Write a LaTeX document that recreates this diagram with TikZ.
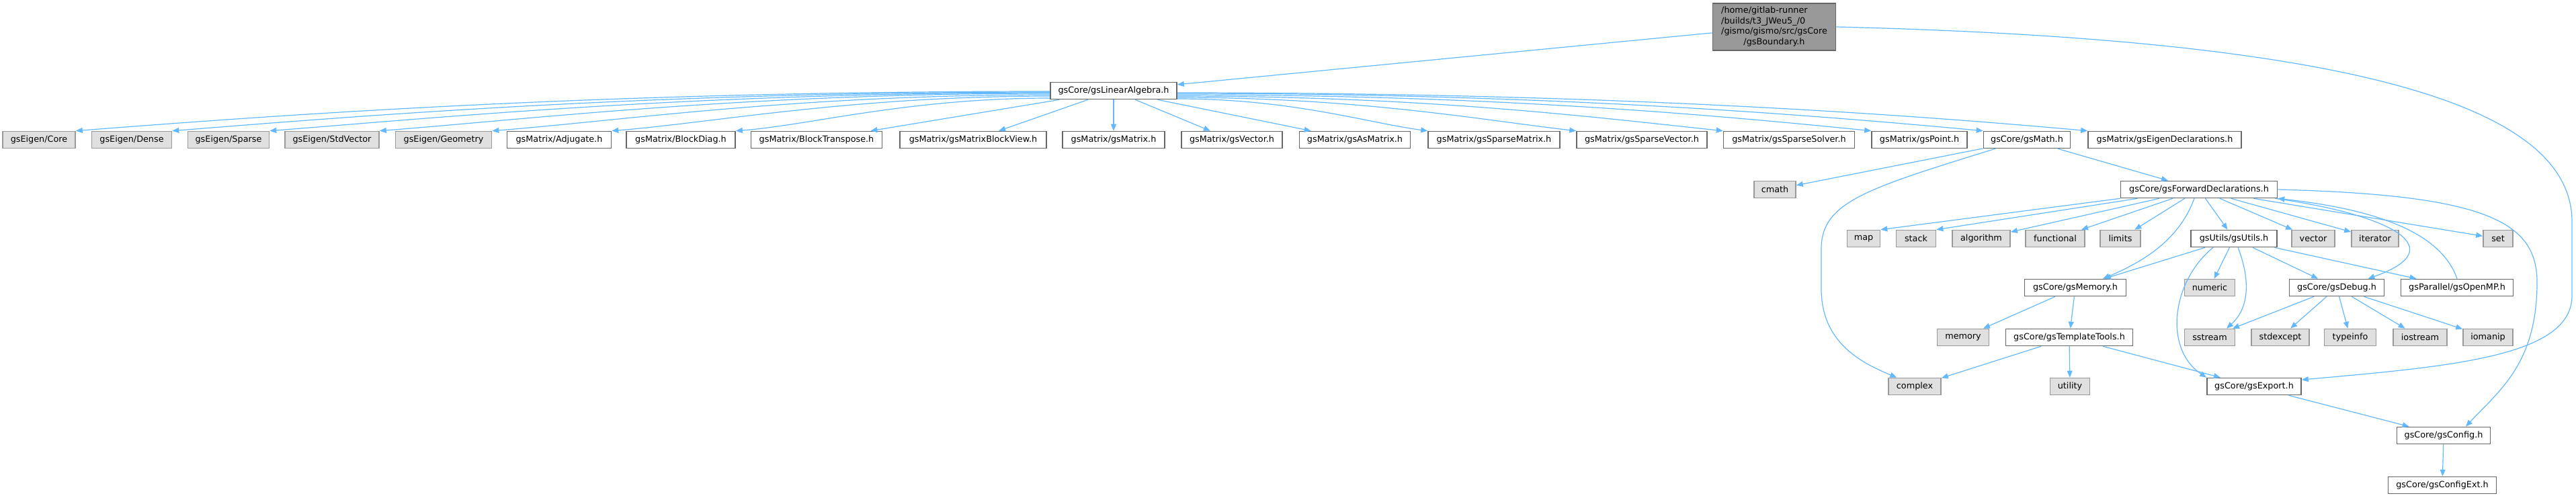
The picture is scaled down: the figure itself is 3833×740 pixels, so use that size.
\documentclass[tikz,border=0pt]{standalone}
\usepackage{fontspec}
\setmainfont{DejaVu Sans}
\usepackage{xcolor}
\usepackage{tikz}
\usetikzlibrary{arrows.meta}

\definecolor{edgeblue}{HTML}{63B8FF}
\definecolor{extfill}{HTML}{E0E0E0}
\definecolor{rootfill}{HTML}{999999}
\definecolor{boxline}{HTML}{666666}

\begin{document}
\begin{tikzpicture}[x=0.5pt, y=-0.5pt,
    filebox/.style={draw=boxline, fill=white, line width=0.8pt, font=\fontsize{6.4}{7.7}\selectfont,
      inner xsep=2pt, inner ysep=0pt, minimum height=12.5pt},
    extbox/.style={filebox, draw=rootfill, fill=extfill},
    rootbox/.style={filebox, fill=rootfill, inner ysep=2pt},
    incl/.style={draw=edgeblue, line width=0.6pt, -{Triangle[length=5pt,width=4pt]}}]
  \useasboundingbox (0,0) rectangle (3833,740);

  % gsBoundary.h and gsLinearAlgebra.h
  \node[rootbox, minimum width=91.5pt, minimum height=35pt] (boundary) at (2640,40)
    {\begin{tabular}{@{}l@{}}/home/gitlab-runner\\/builds/t3\_JWeu5\_/0\\/gismo/gismo/src/gsCore\\\multicolumn{1}{@{}c@{}}{/gsBoundary.h}\end{tabular}};
  \node[filebox, minimum width=94pt] (la) at (1657,135) {gsCore/gsLinearAlgebra.h};

  % headers of gsLinearAlgebra.h
  \node[extbox, minimum width=54pt] (eigenCore) at (58,208) {gsEigen/Core};
  \node[extbox, minimum width=59.5pt] (eigenDense) at (196,208) {gsEigen/Dense};
  \node[extbox, minimum width=60.5pt] (eigenSparse) at (340,208) {gsEigen/Sparse};
  \node[extbox, minimum width=70pt] (eigenStdVector) at (494,208) {gsEigen/StdVector};
  \node[extbox, minimum width=71.5pt] (eigenGeometry) at (660,208) {gsEigen/Geometry};
  \node[filebox, minimum width=77.5pt] (adjugate) at (832,208) {gsMatrix/Adjugate.h};
  \node[filebox, minimum width=81pt] (blockDiag) at (1013,208) {gsMatrix/BlockDiag.h};
  \node[filebox, minimum width=97.5pt] (blockTranspose) at (1215,208) {gsMatrix/BlockTranspose.h};
  \node[filebox, minimum width=109pt] (blockView) at (1448,208) {gsMatrix/gsMatrixBlockView.h};
  \node[filebox, minimum width=76pt] (gsMatrix) at (1657,208) {gsMatrix/gsMatrix.h};
  \node[filebox, minimum width=75pt] (gsVector) at (1833,208) {gsMatrix/gsVector.h};
  \node[filebox, minimum width=82.5pt] (asMatrix) at (2016,208) {gsMatrix/gsAsMatrix.h};
  \node[filebox, minimum width=98pt] (sparseMatrix) at (2223,208) {gsMatrix/gsSparseMatrix.h};
  \node[filebox, minimum width=97pt] (sparseVector) at (2443,208) {gsMatrix/gsSparseVector.h};
  \node[filebox, minimum width=97.5pt] (sparseSolver) at (2662,208) {gsMatrix/gsSparseSolver.h};
  \node[filebox, minimum width=71pt] (gsPoint) at (2856,208) {gsMatrix/gsPoint.h};
  \node[filebox, minimum width=64.5pt] (gsMath) at (3016,208) {gsCore/gsMath.h};
  \node[filebox, minimum width=114pt] (eigenDecl) at (3221,208) {gsMatrix/gsEigenDeclarations.h};

  % gsMath.h and gsForwardDeclarations.h
  \node[extbox, minimum width=31pt] (cmath) at (2641,282) {cmath};
  \node[filebox, minimum width=116.5pt] (fwdDecl) at (3272,282) {gsCore/gsForwardDeclarations.h};

  \node[extbox, minimum width=24.5pt] (map) at (2773,355) {map};
  \node[extbox, minimum width=29.5pt] (stack) at (2851,355) {stack};
  \node[extbox, minimum width=43pt] (algorithm) at (2948,355) {algorithm};
  \node[extbox, minimum width=44pt] (functional) at (3058,355) {functional};
  \node[extbox, minimum width=30pt] (limits) at (3155,355) {limits};
  \node[filebox, minimum width=64pt] (gsUtils) at (3324,355) {gsUtils/gsUtils.h};
  \node[extbox, minimum width=32pt] (vector) at (3442,355) {vector};
  \node[extbox, minimum width=35pt] (iterator) at (3534,355) {iterator};
  \node[extbox, minimum width=22pt] (set) at (3717,355) {set};

  \node[filebox, minimum width=75.5pt] (gsMemory) at (3088,428) {gsCore/gsMemory.h};
  \node[extbox, minimum width=37.5pt] (numeric) at (3288,428) {numeric};
  \node[filebox, minimum width=70.5pt] (gsDebug) at (3477,428) {gsCore/gsDebug.h};
  \node[filebox, minimum width=83.5pt] (gsOpenMP) at (3656,428) {gsParallel/gsOpenMP.h};

  \node[extbox, minimum width=38.5pt] (memory) at (2921,502) {memory};
  \node[filebox, minimum width=94.5pt] (templateTools) at (3079,502) {gsCore/gsTemplateTools.h};
  \node[extbox, minimum width=37.5pt] (sstream) at (3288,502) {sstream};
  \node[extbox, minimum width=43pt] (stdexcept) at (3393,502) {stdexcept};
  \node[extbox, minimum width=38.5pt] (typeinfo) at (3497,502) {typeinfo};
  \node[extbox, minimum width=40pt] (iostream) at (3601,502) {iostream};
  \node[extbox, minimum width=37pt] (iomanip) at (3702,502) {iomanip};

  \node[extbox, minimum width=39pt] (complex) at (2849,575) {complex};
  \node[extbox, minimum width=29.5pt] (utility) at (3080,575) {utility};
  \node[filebox, minimum width=70pt] (gsExport) at (3354,575) {gsCore/gsExport.h};

  \node[filebox, minimum width=69.5pt] (gsConfig) at (3636,648) {gsCore/gsConfig.h};
  \node[filebox, minimum width=80.5pt] (gsConfigExt) at (3634,722) {gsCore/gsConfigExt.h};

  % includes of gsBoundary.h
  \draw[incl] (boundary) -- (la);
  \draw[incl] (boundary.east) .. controls (3550,60) and (3827,170) .. (3827,330) -- (3827,440)
    .. controls (3827,530) and (3650,545) .. (gsExport.8);

  % includes of gsLinearAlgebra.h
  \draw[incl] ([yshift=-0.5pt]la.west) .. controls +(-653,0) and +(334,-26) .. (eigenCore.north east);
  \draw[incl] ([yshift=-1pt]la.west) .. controls +(-589,0) and +(301,-24) .. (eigenDense.north east);
  \draw[incl] ([yshift=-1.5pt]la.west) .. controls +(-523,0) and +(267,-21) .. (eigenSparse.north east);
  \draw[incl] ([yshift=-2pt]la.west) .. controls +(-450,0) and +(230,-18) .. (eigenStdVector.north east);
  \draw[incl] ([yshift=-3pt]la.west) .. controls +(-374,0) and +(191,-15) .. (eigenGeometry.north east);
  \draw[incl] ([yshift=-4pt]la.west) .. controls +(-294,0) and +(150,-12) .. (adjugate.north east);
  \draw[incl] ([yshift=-5.5pt]la.west) .. controls +(-211,0) and +(108,-8) .. (blockDiag.north east);
  \draw[incl] (la) -- (blockTranspose);
  \draw[incl] (la) -- (blockView);
  \draw[incl] (la) -- (gsMatrix);
  \draw[incl] (la) -- (gsVector);
  \draw[incl] (la) -- (asMatrix);
  \draw[incl] ([yshift=-6pt]la.east) .. controls +(170,0) and +(-90,-12) .. (sparseMatrix.north west);
  \draw[incl] ([yshift=-5pt]la.east) .. controls +(270,0) and +(-140,-16) .. (sparseVector.north west);
  \draw[incl] ([yshift=-4pt]la.east) .. controls +(370,0) and +(-190,-20) .. (sparseSolver.north west);
  \draw[incl] ([yshift=-3pt]la.east) .. controls +(470,0) and +(-240,-24) .. (gsPoint.north west);
  \draw[incl] ([yshift=-2pt]la.east) .. controls +(540,0) and +(-280,-26) .. (gsMath.north west);
  \draw[incl] ([yshift=-1.5pt]la.east) .. controls +(610,0) and +(-310,-28) .. (eigenDecl.north west);

  % includes of gsMath.h
  \draw[incl] (gsMath) -- (cmath);
  \draw[incl] (gsMath) -- (fwdDecl);
  \draw[incl] ([xshift=9pt]gsMath.south west) .. controls (2780,280) and (2710,300) .. (2710,370) -- (2710,430)
    .. controls (2710,510) and (2770,540) .. ([xshift=6.5pt]complex.north west);

  % includes of gsForwardDeclarations.h
  \draw[incl] (fwdDecl.south west) -- (map.north east);
  \draw[incl] ([xshift=13pt]fwdDecl.south west) -- (stack.north east);
  \draw[incl] (fwdDecl) -- (algorithm);
  \draw[incl] (fwdDecl) -- (functional);
  \draw[incl] (fwdDecl) -- (limits);
  \draw[incl] (fwdDecl) -- (gsUtils);
  \draw[incl] (fwdDecl) -- (vector);
  \draw[incl] (fwdDecl) -- (iterator);
  \draw[incl] (fwdDecl) -- (set);
  \draw[incl] ([xshift=-3.5pt]fwdDecl.south) .. controls (3245,350) and (3200,385) .. (gsMemory.18);
  \draw[incl] ([xshift=-2pt]fwdDecl.south east) .. controls (3560,320) and (3650,370) .. (gsDebug.16);
  \draw[incl] (fwdDecl.east) .. controls (3700,290) and (3775,330) .. (3775,420)
    .. controls (3775,540) and (3720,580) .. (gsConfig.22);
  \draw[incl] (gsOpenMP.north) .. controls (3630,340) and (3520,310) .. (fwdDecl.south east);

  % includes of gsUtils.h
  \draw[incl] (gsUtils) -- (gsMemory);
  \draw[incl] (gsUtils) -- (numeric);
  \draw[incl] (gsUtils) -- (gsDebug);
  \draw[incl] (gsUtils) -- (gsOpenMP);
  \draw[incl] ([xshift=3pt]gsUtils.south) .. controls (3350,420) and (3345,460) .. (sstream.28);
  \draw[incl] ([xshift=-15.5pt]gsUtils.south) .. controls (3230,420) and (3220,520) .. (gsExport.north west);

  % gsMemory.h, gsTemplateTools.h, gsDebug.h
  \draw[incl] (gsMemory) -- (memory);
  \draw[incl] (gsMemory) -- (templateTools);
  \draw[incl] (templateTools) -- (complex);
  \draw[incl] (templateTools) -- (utility);
  \draw[incl] (templateTools) -- (gsExport);
  \draw[incl] (gsDebug) -- (sstream);
  \draw[incl] (gsDebug) -- (stdexcept);
  \draw[incl] (gsDebug) -- (typeinfo);
  \draw[incl] (gsDebug) -- (iostream);
  \draw[incl] (gsDebug) -- (iomanip);

  % gsExport.h and gsConfig.h
  \draw[incl] (gsExport) -- (gsConfig);
  \draw[incl] (gsConfig) -- (gsConfigExt);
\end{tikzpicture}
\end{document}
